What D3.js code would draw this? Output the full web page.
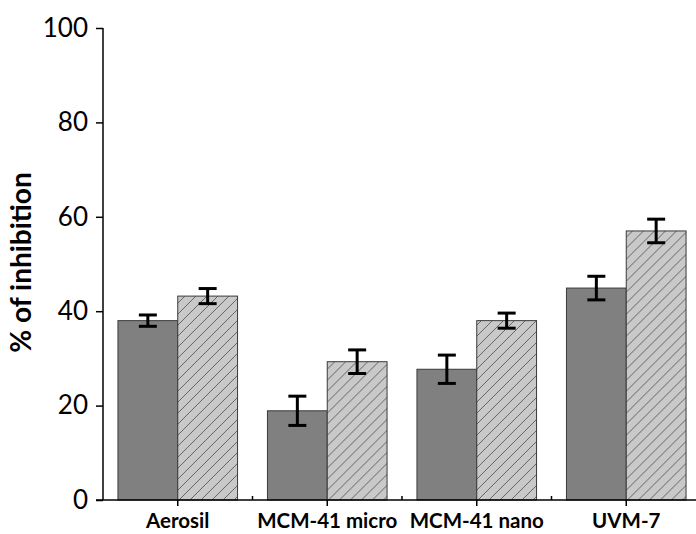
<!DOCTYPE html>
<html>
<head>
<meta charset="utf-8">
<script src="https://cdn.jsdelivr.net/npm/d3@7"></script>
<style>
  html, body { margin: 0; padding: 0; background: #fff; }
  svg { display: block; }
</style>
</head>
<body>
<svg id="chart" width="696" height="534"></svg>
<script>
// Inhibition by support material
const categories = ["Aerosil", "MCM-41 micro", "MCM-41 nano", "UVM-7"];
const seriesNames = ["solid", "hatched"];
const solidValues = [38.0, 18.9, 27.7, 44.9];
const solidErrors = [1.2, 3.1, 3.0, 2.5];
const hatchedValues = [43.2, 29.3, 38.0, 57.0];
const hatchedErrors = [1.6, 2.5, 1.6, 2.5];
const yTicks = [0, 20, 40, 60, 80, 100];

const svg = d3.select("#chart");
const plotLeft = 103, plotRight = 701, plotTop = 28, plotBottom = 500;

const x = d3.scaleBand().domain(categories).range([plotLeft, plotRight])
  .paddingInner(0.2).paddingOuter(0.1);
const xs = d3.scaleBand().domain(seriesNames).range([0, x.bandwidth()]);
const y = d3.scaleLinear().domain([0, 100]).range([plotBottom, plotTop]);

// diagonal hatch pattern
const defs = svg.append("defs");
const pat = defs.append("pattern")
  .attr("id", "hatch").attr("patternUnits", "userSpaceOnUse")
  .attr("width", 11).attr("height", 11);
pat.append("rect").attr("width", 11).attr("height", 11).attr("fill", "#c9c9c9");
pat.append("path").attr("d", "M0,11 L11,0 M-2,2 L2,-2 M9,13 L13,9")
  .attr("stroke", "#4a4a4a").attr("stroke-width", 0.8);

const rows = categories.map((c, i) => ({
  cat: c,
  items: [
    { s: "solid", v: solidValues[i], e: solidErrors[i] },
    { s: "hatched", v: hatchedValues[i], e: hatchedErrors[i] }
  ]
}));

const groups = svg.append("g").selectAll("g").data(rows).join("g")
  .attr("transform", d => `translate(${x(d.cat)},0)`);

groups.selectAll("rect").data(d => d.items).join("rect")
  .attr("x", d => xs(d.s))
  .attr("width", xs.bandwidth())
  .attr("y", d => y(d.v))
  .attr("height", d => y(0) - y(d.v))
  .attr("fill", d => d.s === "solid" ? "#808080" : "url(#hatch)")
  .attr("stroke", "#3a3a3a")
  .attr("stroke-width", 1);

// error bars
const capW = 9;
const eb = groups.selectAll("g.err").data(d => d.items).join("g").attr("class", "err")
  .attr("transform", d => `translate(${xs(d.s) + xs.bandwidth() / 2},0)`)
  .attr("stroke", "#000").attr("stroke-width", 3);
eb.append("line").attr("x1", 0).attr("x2", 0)
  .attr("y1", d => y(d.v + d.e)).attr("y2", d => y(d.v - d.e));
eb.append("line").attr("x1", -capW).attr("x2", capW)
  .attr("y1", d => y(d.v + d.e)).attr("y2", d => y(d.v + d.e));
eb.append("line").attr("x1", -capW).attr("x2", capW)
  .attr("y1", d => y(d.v - d.e)).attr("y2", d => y(d.v - d.e));

// y axis
const yAxis = svg.append("g").attr("transform", `translate(${plotLeft},0)`)
  .call(d3.axisLeft(y).tickValues(yTicks).tickSize(7).tickPadding(8));
yAxis.select(".domain").attr("stroke", "#000").attr("stroke-width", 1.5)
  .attr("d", `M0,${plotTop}V${plotBottom}`);
yAxis.selectAll(".tick line").attr("stroke", "#000").attr("stroke-width", 1.5);
yAxis.selectAll(".tick text")
  .attr("font-family", "Lato, 'Open Sans', sans-serif")
  .attr("font-size", 26).attr("fill", "#000");

// x axis
const xAxis = svg.append("g").attr("transform", `translate(0,${plotBottom})`)
  .call(d3.axisBottom(x).tickSize(6).tickPadding(7));
xAxis.select(".domain").attr("stroke", "#000").attr("stroke-width", 1.5)
  .attr("d", `M${plotLeft - 7},0H${plotRight}`);
xAxis.selectAll(".tick line").attr("stroke", "#000").attr("stroke-width", 1.5);
xAxis.selectAll(".tick text")
  .attr("font-family", "Lato, 'Open Sans', sans-serif")
  .attr("font-weight", "bold")
  .attr("font-size", 20.5).attr("fill", "#000");

// minor ticks between groups
const boundaries = categories.slice(1).map(c => x(c) - x.step() * x.paddingInner() / 2);
xAxis.selectAll("line.minor").data(boundaries).join("line").attr("class", "minor")
  .attr("x1", d => d).attr("x2", d => d).attr("y1", 0).attr("y2", -4)
  .attr("stroke", "#000").attr("stroke-width", 1.5);

// y axis title
svg.append("text")
  .attr("transform", `translate(31,${(170 + 355) / 2}) rotate(-90)`)
  .attr("text-anchor", "middle")
  .attr("font-family", "Lato, 'Open Sans', sans-serif")
  .attr("font-weight", "bold")
  .attr("font-size", 28)
  .attr("fill", "#000")
  .text("% of inhibition");
</script>
</body>
</html>
